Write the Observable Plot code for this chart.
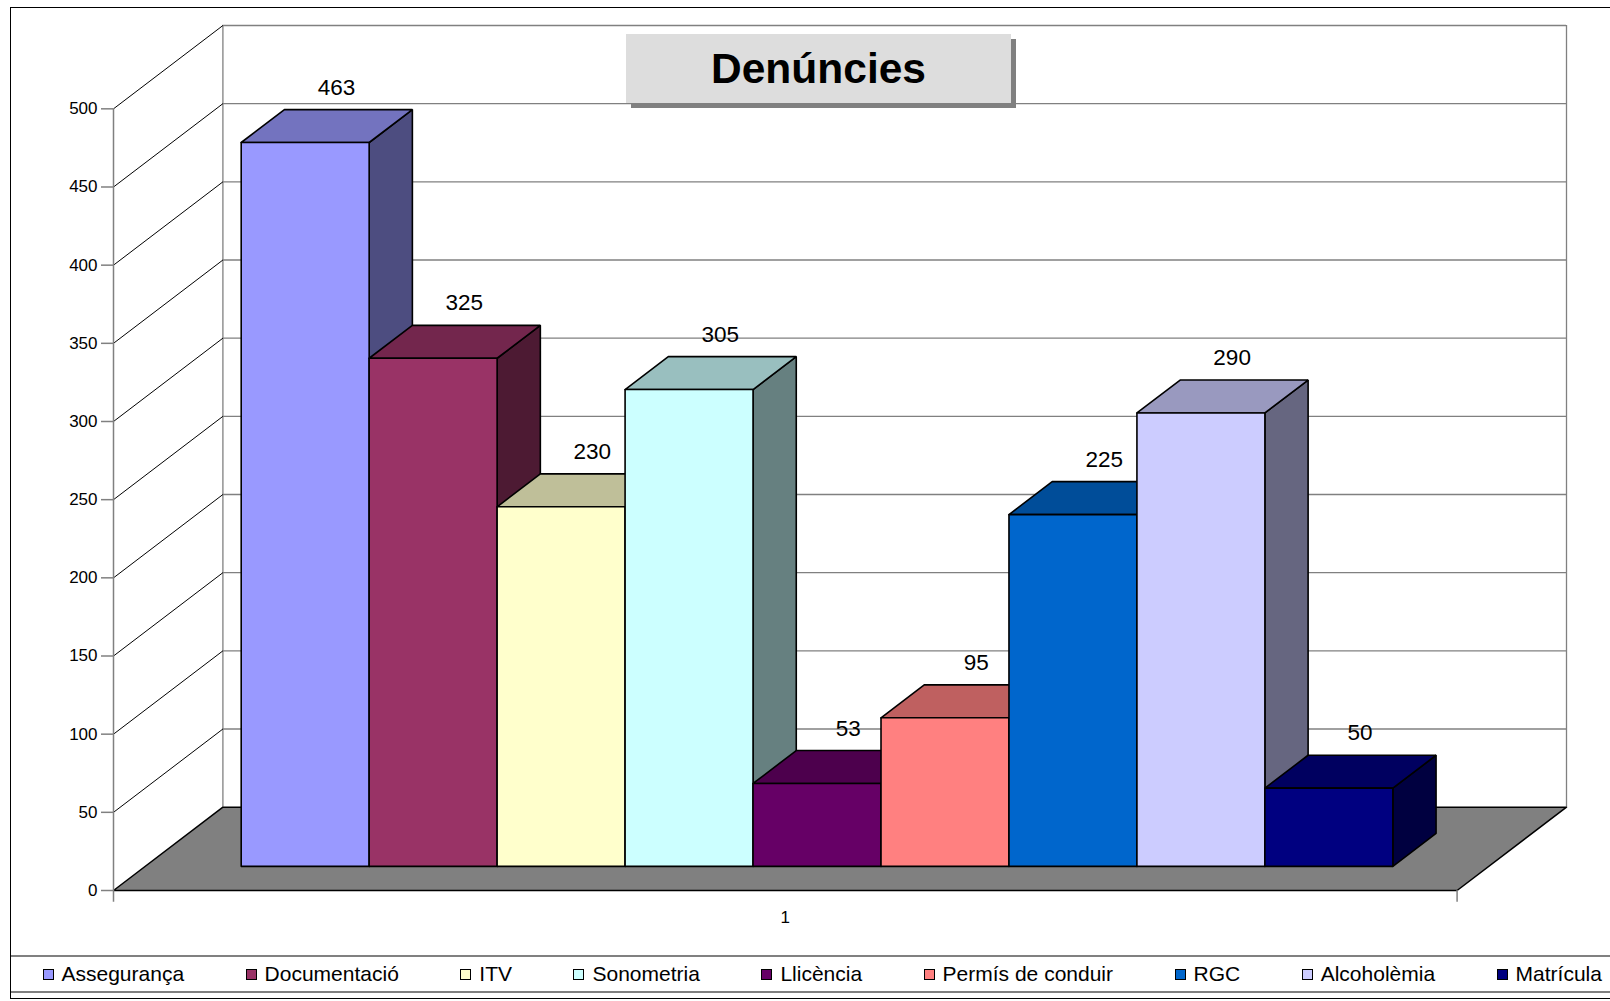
<!DOCTYPE html>
<html>
<head>
<meta charset="utf-8">
<script src="https://cdn.jsdelivr.net/npm/d3@7"></script>
<script src="https://cdn.jsdelivr.net/npm/@observablehq/plot@0.6"></script>
<style>
  html, body { margin: 0; padding: 0; background: #fff; overflow: hidden; }
  #wrap { position: relative; width: 1610px; height: 1001px; font-family: "Liberation Sans", Arial, sans-serif; }
  #chart { position: absolute; left: 0; top: 0; }
  #border { position: absolute; left: 10px; top: 7px; width: 1620px; height: 992px; border: 1.5px solid #000; box-sizing: border-box; pointer-events: none; }
  #title { position: absolute; left: 626px; top: 34px; width: 385px; height: 69px; background: #DDDDDD; box-shadow: 5px 5px 0 #808080;
           display: flex; align-items: center; justify-content: center; font-weight: bold; font-size: 42.5px; color: #000; }
  #legend { position: absolute; left: 10px; top: 955px; width: 1620px; height: 38px; border-top: 2px solid #808080; border-bottom: 2px solid #808080;
            box-sizing: border-box; display: flex; align-items: center; padding-left: 32.5px; gap: 61.5px; white-space: nowrap; font-size: 21px; }
  .item { display: flex; align-items: center; }
  .sw { width: 11px; height: 11px; border: 1px solid #000; box-sizing: border-box; margin-right: 8px; }
</style>
</head>
<body>
<div id="wrap">
  <div id="chart"></div>
  <div id="title"></div>
  <div id="legend"></div>
  <div id="border"></div>
</div>
<script>
// ---- data ----
const title = "Denúncies";
const categories = ["Assegurança", "Documentació", "ITV", "Sonometria", "Llicència", "Permís de conduir", "RGC", "Alcoholèmia", "Matrícula"];
const values = [463, 325, 230, 305, 53, 95, 225, 290, 50];
const palette = ["#9999FF", "#993366", "#FFFFCC", "#CCFFFF", "#660066", "#FF8080", "#0066CC", "#CCCCFF", "#000080"];
const yTicks = [0, 50, 100, 150, 200, 250, 300, 350, 400, 450, 500];
const xTickLabels = ["1"];

// ---- 3D projection parameters (in scale units) ----
const GAP = 0.75;          // gap before first / after last bar (bar widths)
const N = categories.length;
const FLOOR_W = N + 2 * GAP;
const DXU = 0.855;         // x shift for full depth
const DYV = 53.3;          // y shift (value units) for full depth
const D0 = 0.29, D1 = 0.685; // bar depth range
const YMAX = 500;

const proj = (u, v, d) => ({x: u + d * DXU, y: v + d * DYV});
const shade = (c, k) => { const r = d3.rgb(c); return d3.rgb(r.r * k, r.g * k, r.b * k).formatHex(); };

// polygons for bars
const polys = [];
categories.forEach((cat, i) => {
  const v = values[i], u0 = GAP + i, u1 = u0 + 1;
  const faces = [
    ["side", shade(palette[i], 0.5), [[u1, 0, D0], [u1, v, D0], [u1, v, D1], [u1, 0, D1]]],
    ["top", shade(palette[i], 0.75), [[u0, v, D0], [u1, v, D0], [u1, v, D1], [u0, v, D1]]],
    ["front", palette[i], [[u0, 0, D0], [u1, 0, D0], [u1, v, D0], [u0, v, D0]]]
  ];
  for (const [name, col, pts] of faces) {
    const closed = [...pts, pts[0]];
    for (const p of closed) polys.push({face: cat + "-" + name, fill: col, ...proj(...p)});
  }
});

// floor polygon
const floorPts = [[0, 0, 0], [FLOOR_W, 0, 0], [FLOOR_W, 0, 1], [0, 0, 1], [0, 0, 0]].map(p => proj(...p));

// labels
const labels = categories.map((cat, i) => ({text: String(values[i]), ...proj(GAP + i + 0.5, values[i], D1)}));

const plot = Plot.plot({
  width: 1610,
  height: 955,
  marginLeft: 113,
  marginRight: 44,
  marginTop: 25,
  marginBottom: 65,
  x: {type: "linear", domain: [0, FLOOR_W + DXU], axis: null},
  y: {type: "linear", domain: [0, YMAX + DYV], axis: null},
  color: {type: "identity"},
  style: {fontFamily: "'Liberation Sans', Arial, sans-serif", background: "white", color: "black", overflow: "visible"},
  marks: [
    // back wall gridlines
    Plot.ruleY(yTicks.filter(t => t > 0), {y: d => d + DYV, x1: DXU, x2: FLOOR_W + DXU, stroke: "#808080", strokeWidth: 1.3}),
    // back wall vertical edges
    Plot.ruleX([DXU, FLOOR_W + DXU], {x: d => d, y1: DYV, y2: YMAX + DYV, stroke: "#808080", strokeWidth: 1.3}),
    // side wall diagonals
    Plot.link(yTicks.filter(t => t > 0), {x1: 0, y1: d => d, x2: DXU, y2: d => d + DYV, stroke: "#000", strokeWidth: 1}),
    // floor
    Plot.line(floorPts, {x: "x", y: "y", fill: "#808080", stroke: "#000", strokeWidth: 1.5, curve: "linear"}),
    // front axis line and x ticks
    Plot.ruleX([0], {y1: -7.5, y2: YMAX, stroke: "#808080", strokeWidth: 1.5}),
    Plot.ruleX([FLOOR_W], {y1: -7.5, y2: 0, stroke: "#808080", strokeWidth: 1.5}),
    Plot.axisY({ticks: yTicks, tickSize: 12, tickPadding: 4, fontSize: 17, label: null, stroke: "#808080", strokeWidth: 1.5}),
    // bars (3D faces)
    Plot.line(polys, {x: "x", y: "y", z: "face", fill: "fill", stroke: "#000", strokeWidth: 1.6, strokeLinejoin: "miter", curve: "linear"}),
    // value labels
    Plot.text(labels, {x: "x", y: "y", text: "text", fontSize: 22.5, lineAnchor: "bottom", dx: -12, dy: -15, fill: "#000"}),
    // x tick label
    Plot.text(xTickLabels, {x: () => FLOOR_W / 2, y: () => 0, text: d => d, fontSize: 17, dy: 27, fill: "#000"})
  ]
});
document.getElementById("chart").appendChild(plot);

document.getElementById("title").textContent = title;
const legend = document.getElementById("legend");
categories.forEach((cat, i) => {
  const item = document.createElement("div");
  item.className = "item";
  const sw = document.createElement("div");
  sw.className = "sw";
  sw.style.background = palette[i];
  const t = document.createElement("span");
  t.textContent = cat;
  item.appendChild(sw);
  item.appendChild(t);
  legend.appendChild(item);
});
</script>
</body>
</html>
